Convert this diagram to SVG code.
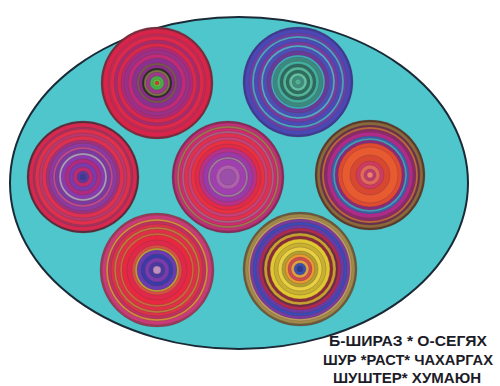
<svg xmlns="http://www.w3.org/2000/svg" width="500" height="386" viewBox="0 0 500 386">
<style>
.t{font-family:"Liberation Sans",Arial,sans-serif;font-weight:bold;font-size:15px;fill:#1c1c28;text-anchor:middle}
.p circle{stroke:#5a3a3a;stroke-opacity:0.35;stroke-width:0.8}
</style>
<rect width="500" height="386" fill="#ffffff"/>
<ellipse id="oval" cx="239" cy="183" rx="229" ry="166" fill="#4fc6cc" stroke="#1a2a36" stroke-width="2"/>
<g id="plate1" class="p" transform="translate(157,83)">
<circle r="56" fill="#7a2a3a"/><circle r="54" fill="#d8234a"/><circle r="49" fill="#c42a5a"/><circle r="47" fill="#e0284a"/><circle r="43" fill="#a82a70"/><circle r="40" fill="#d8284c"/><circle r="36" fill="#b0287c"/><circle r="33" fill="#9a3088"/><circle r="29" fill="#c02a78"/><circle r="25" fill="#8a3090"/><circle r="20" fill="#7a5a4a"/><circle r="18" fill="#8a2c8a"/><circle r="15" fill="#2a2a2a"/><circle r="13" fill="#7a7a40"/><circle r="11" fill="#9a3a8a"/><circle r="7" fill="#40b048"/><circle r="4" fill="#60c040"/><circle r="2" fill="#e03030"/>
</g>
<g id="plate2" class="p" transform="translate(298,82)">
<circle r="55" fill="#3a3a9a"/><circle r="53" fill="#4a48b8"/><circle r="49" fill="#6a40a8"/><circle r="46" fill="#4aa8c8"/><circle r="44" fill="#4a4ab8"/><circle r="40" fill="#7a3aa0"/><circle r="37" fill="#50b0d0"/><circle r="35" fill="#4a50b8"/><circle r="31" fill="#6a3a98"/><circle r="27" fill="#3ab0c0"/><circle r="25" fill="#3a8a80"/><circle r="21" fill="#40b0a0"/><circle r="18" fill="#2a6a60"/><circle r="15" fill="#50b898"/><circle r="12" fill="#2a7060"/><circle r="9" fill="#60c0a0"/><circle r="6" fill="#3a9080"/><circle r="3" fill="#50b090"/>
</g>
<g id="plate3" class="p" transform="translate(83,177)">
<circle r="56" fill="#5a2a3a"/><circle r="54" fill="#d82850"/><circle r="50" fill="#a83060"/><circle r="48" fill="#e0304c"/><circle r="44" fill="#b83870"/><circle r="41" fill="#e03050"/><circle r="37" fill="#a03080"/><circle r="34" fill="#8a3aa0"/><circle r="30" fill="#c84a90"/><circle r="28" fill="#7a3aa0"/><circle r="24" fill="#b0a0c0"/><circle r="22" fill="#8a3ab0"/><circle r="18" fill="#b02a80"/><circle r="14" fill="#7a3ab0"/><circle r="10" fill="#c02a70"/><circle r="6" fill="#5a3aa0"/><circle r="3" fill="#3a3a9a"/>
</g>
<g id="plate4" class="p" transform="translate(228,177)">
<circle r="56" fill="#8a2a5a"/><circle r="54" fill="#c0307a"/><circle r="51" fill="#a07a50"/><circle r="49" fill="#d02a70"/><circle r="46" fill="#b0608a"/><circle r="44" fill="#e03050"/><circle r="40" fill="#c8407a"/><circle r="37" fill="#e83040"/><circle r="33" fill="#e02a48"/><circle r="29" fill="#b83088"/><circle r="25" fill="#9a3aa8"/><circle r="20" fill="#a080a0"/><circle r="18" fill="#a040b0"/><circle r="12" fill="#b060b0"/><circle r="8" fill="#9a50a8"/>
</g>
<g id="plate5" class="p" transform="translate(370,175)">
<circle r="55" fill="#5a3a2a"/><circle r="53" fill="#8a6a3a"/><circle r="50" fill="#6a3050"/><circle r="48" fill="#c06a3a"/><circle r="46" fill="#8a2a6a"/><circle r="43" fill="#b02a8a"/><circle r="39" fill="#3a60b0"/><circle r="37" fill="#40a0c0"/><circle r="35" fill="#8a2a7a"/><circle r="32" fill="#e04a30"/><circle r="28" fill="#e85a30"/><circle r="20" fill="#d84830"/><circle r="14" fill="#d03a60"/><circle r="10" fill="#e06a5a"/><circle r="6" fill="#c03a70"/><circle r="3" fill="#f08070"/>
</g>
<g id="plate6" class="p" transform="translate(157,270)">
<circle r="57" fill="#9a3a5a"/><circle r="55" fill="#c83a78"/><circle r="51" fill="#d8903a"/><circle r="49" fill="#c03060"/><circle r="46" fill="#e0304a"/><circle r="43" fill="#c0803a"/><circle r="41" fill="#e03048"/><circle r="37" fill="#d06a3a"/><circle r="35" fill="#e82840"/><circle r="30" fill="#e0284a"/><circle r="25" fill="#d85040"/><circle r="22" fill="#c0a03a"/><circle r="20" fill="#6a3ab0"/><circle r="16" fill="#3a3aa8"/><circle r="12" fill="#7a3ab0"/><circle r="8" fill="#4a3aa0"/><circle r="4" fill="#c090c0"/>
</g>
<g id="plate7" class="p" transform="translate(300,269)">
<circle r="57" fill="#6a5a3a"/><circle r="55" fill="#a08a4a"/><circle r="52" fill="#c0a060"/><circle r="50" fill="#7a3aa0"/><circle r="47" fill="#3a4ab8"/><circle r="44" fill="#6a3aa8"/><circle r="41" fill="#b02a50"/><circle r="38" fill="#6a2a4a"/><circle r="36" fill="#c8a030"/><circle r="33" fill="#8a2a3a"/><circle r="30" fill="#e0c830"/><circle r="26" fill="#c8b030"/><circle r="22" fill="#e8d040"/><circle r="18" fill="#b0a030"/><circle r="15" fill="#e89a30"/><circle r="12" fill="#d04a50"/><circle r="9" fill="#e0a040"/><circle r="6" fill="#3a50b0"/><circle r="3" fill="#2a3a90"/>
</g>
<g id="legend">
<text class="t" x="408" y="346" textLength="158" lengthAdjust="spacingAndGlyphs">Б-ШИРАЗ *  О-СЕГЯХ</text>
<text class="t" x="408" y="365" textLength="170" lengthAdjust="spacingAndGlyphs">ШУР *РАСТ* ЧАХАРГАХ</text>
<text class="t" x="407" y="383" textLength="148" lengthAdjust="spacingAndGlyphs">ШУШТЕР* ХУМАЮН</text>
</g>
</svg>
